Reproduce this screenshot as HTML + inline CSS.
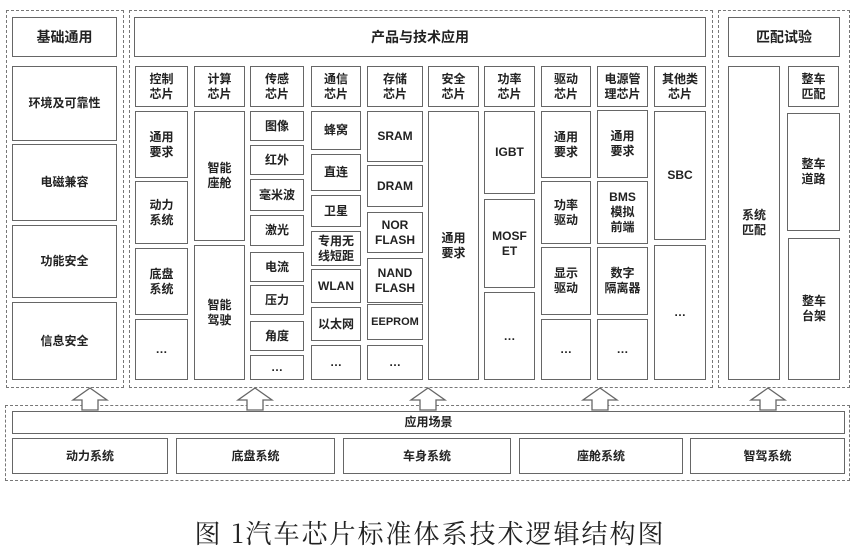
<!DOCTYPE html>
<html><head><meta charset="utf-8"><style>
*{margin:0;padding:0;box-sizing:border-box}
body{width:856px;height:556px;background:#fff;position:relative;overflow:hidden;font-family:"Liberation Sans","Noto Sans CJK SC",sans-serif;font-weight:bold;color:#222}
.b{position:absolute;border:1.5px solid #666;display:flex;align-items:center;justify-content:center;text-align:center;font-size:12px;line-height:15px;background:#fff}
.h{font-size:14px}
.d{position:absolute;border:1.3px dashed #777}
.cap{position:absolute;left:160px;top:514px;width:540px;text-align:center;font-family:"Noto Serif CJK SC",serif;font-weight:normal;font-size:26px;letter-spacing:2px;color:#222}
svg{position:absolute;left:0;top:0}
</style></head><body>
<div class="d" style="left:6px;top:10px;width:118px;height:378px"></div>
<div class="d" style="left:129px;top:10px;width:584px;height:378px"></div>
<div class="d" style="left:718px;top:10px;width:132px;height:378px"></div>
<div class="d" style="left:5px;top:405px;width:845px;height:76px"></div>

<div class="b h" style="left:12px;top:17px;width:105px;height:40px">基础通用</div>
<div class="b h" style="left:134px;top:17px;width:572px;height:40px">产品与技术应用</div>
<div class="b h" style="left:728px;top:17px;width:112px;height:40px">匹配试验</div>

<div class="b" style="left:12px;top:66px;width:105px;height:75px">环境及可靠性</div>
<div class="b" style="left:12px;top:144px;width:105px;height:77px">电磁兼容</div>
<div class="b" style="left:12px;top:225px;width:105px;height:73px">功能安全</div>
<div class="b" style="left:12px;top:302px;width:105px;height:78px">信息安全</div>

<div class="b" style="left:135px;top:66px;width:53px;height:41px">控制<br>芯片</div>
<div class="b" style="left:194px;top:66px;width:51px;height:41px">计算<br>芯片</div>
<div class="b" style="left:250px;top:66px;width:54px;height:41px">传感<br>芯片</div>
<div class="b" style="left:311px;top:66px;width:50px;height:41px">通信<br>芯片</div>
<div class="b" style="left:367px;top:66px;width:56px;height:41px">存储<br>芯片</div>
<div class="b" style="left:428px;top:66px;width:51px;height:41px">安全<br>芯片</div>
<div class="b" style="left:484px;top:66px;width:51px;height:41px">功率<br>芯片</div>
<div class="b" style="left:541px;top:66px;width:50px;height:41px">驱动<br>芯片</div>
<div class="b" style="left:597px;top:66px;width:51px;height:41px">电源管<br>理芯片</div>
<div class="b" style="left:654px;top:66px;width:52px;height:41px">其他类<br>芯片</div>

<div class="b" style="left:135px;top:111px;width:53px;height:67px">通用<br>要求</div>
<div class="b" style="left:135px;top:181px;width:53px;height:63px">动力<br>系统</div>
<div class="b" style="left:135px;top:248px;width:53px;height:67px">底盘<br>系统</div>
<div class="b" style="left:135px;top:319px;width:53px;height:61px">…</div>

<div class="b" style="left:194px;top:111px;width:51px;height:130px">智能<br>座舱</div>
<div class="b" style="left:194px;top:245px;width:51px;height:135px">智能<br>驾驶</div>

<div class="b" style="left:250px;top:111px;width:54px;height:30px">图像</div>
<div class="b" style="left:250px;top:145px;width:54px;height:30px">红外</div>
<div class="b" style="left:250px;top:179px;width:54px;height:32px">毫米波</div>
<div class="b" style="left:250px;top:215px;width:54px;height:31px">激光</div>
<div class="b" style="left:250px;top:252px;width:54px;height:30px">电流</div>
<div class="b" style="left:250px;top:285px;width:54px;height:30px">压力</div>
<div class="b" style="left:250px;top:321px;width:54px;height:30px">角度</div>
<div class="b" style="left:250px;top:355px;width:54px;height:25px">…</div>

<div class="b" style="left:311px;top:111px;width:50px;height:39px">蜂窝</div>
<div class="b" style="left:311px;top:154px;width:50px;height:37px">直连</div>
<div class="b" style="left:311px;top:195px;width:50px;height:32px">卫星</div>
<div class="b" style="left:311px;top:231px;width:50px;height:35px">专用无<br>线短距</div>
<div class="b" style="left:311px;top:269px;width:50px;height:34px">WLAN</div>
<div class="b" style="left:311px;top:307px;width:50px;height:34px">以太网</div>
<div class="b" style="left:311px;top:345px;width:50px;height:35px">…</div>

<div class="b" style="left:367px;top:111px;width:56px;height:51px">SRAM</div>
<div class="b" style="left:367px;top:165px;width:56px;height:42px">DRAM</div>
<div class="b" style="left:367px;top:212px;width:56px;height:41px">NOR<br>FLASH</div>
<div class="b" style="left:367px;top:258px;width:56px;height:45px">NAND<br>FLASH</div>
<div class="b" style="left:367px;top:304px;width:56px;height:36px;font-size:11px">EEPROM</div>
<div class="b" style="left:367px;top:345px;width:56px;height:35px">…</div>

<div class="b" style="left:428px;top:111px;width:51px;height:269px">通用<br>要求</div>

<div class="b" style="left:484px;top:111px;width:51px;height:83px">IGBT</div>
<div class="b" style="left:484px;top:199px;width:51px;height:89px">MOSF<br>ET</div>
<div class="b" style="left:484px;top:292px;width:51px;height:88px">…</div>

<div class="b" style="left:541px;top:111px;width:50px;height:67px">通用<br>要求</div>
<div class="b" style="left:541px;top:181px;width:50px;height:63px">功率<br>驱动</div>
<div class="b" style="left:541px;top:247px;width:50px;height:68px">显示<br>驱动</div>
<div class="b" style="left:541px;top:319px;width:50px;height:61px">…</div>

<div class="b" style="left:597px;top:110px;width:51px;height:68px">通用<br>要求</div>
<div class="b" style="left:597px;top:181px;width:51px;height:63px">BMS<br>模拟<br>前端</div>
<div class="b" style="left:597px;top:247px;width:51px;height:68px">数字<br>隔离器</div>
<div class="b" style="left:597px;top:319px;width:51px;height:61px">…</div>

<div class="b" style="left:654px;top:111px;width:52px;height:129px">SBC</div>
<div class="b" style="left:654px;top:245px;width:52px;height:135px">…</div>

<div class="b" style="left:728px;top:66px;width:52px;height:314px">系统<br>匹配</div>
<div class="b" style="left:788px;top:66px;width:51px;height:41px">整车<br>匹配</div>
<div class="b" style="left:787px;top:113px;width:53px;height:118px">整车<br>道路</div>
<div class="b" style="left:788px;top:238px;width:52px;height:142px">整车<br>台架</div>

<svg width="856" height="556">
<g fill="#fff" stroke="#666" stroke-width="1.3">
<polygon points="90,388 73,400 82,400 82,410 98,410 98,400 107,400"/>
<polygon points="255,388 238,400 247,400 247,410 263,410 263,400 272,400"/>
<polygon points="428,388 411,400 420,400 420,410 436,410 436,400 445,400"/>
<polygon points="600,388 583,400 592,400 592,410 608,410 608,400 617,400"/>
<polygon points="768,388 751,400 760,400 760,410 776,410 776,400 785,400"/>
</g></svg>

<div class="b" style="left:12px;top:411px;width:833px;height:23px">应用场景</div>
<div class="b" style="left:12px;top:438px;width:156px;height:36px">动力系统</div>
<div class="b" style="left:176px;top:438px;width:159px;height:36px">底盘系统</div>
<div class="b" style="left:343px;top:438px;width:168px;height:36px">车身系统</div>
<div class="b" style="left:519px;top:438px;width:164px;height:36px">座舱系统</div>
<div class="b" style="left:690px;top:438px;width:155px;height:36px">智驾系统</div>

<div class="cap">图 1汽车芯片标准体系技术逻辑结构图</div>
</body></html>
